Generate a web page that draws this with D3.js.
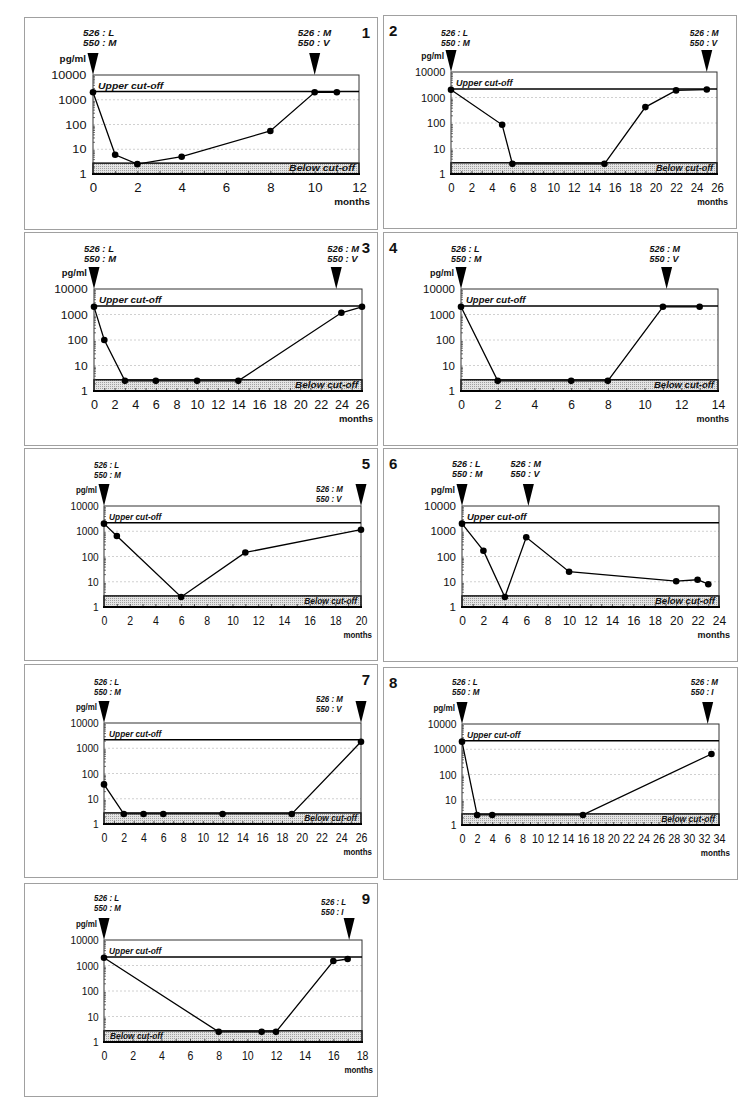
<!DOCTYPE html>
<html><head><meta charset="utf-8">
<script src="https://cdn.jsdelivr.net/npm/d3@7/dist/d3.min.js"></script>
<style>
body{margin:0;background:#fff}
svg{display:block}
text{font-family:"Liberation Sans",Arial,Helvetica,sans-serif;fill:#111}
</style>
</head><body>
<svg id="chart" width="752" height="1112"></svg>
<script>
// ---------------- DATA ----------------
const panelNumbers = [1, 2, 3, 4, 5, 6, 7, 8, 9];
const months1 = [0, 1, 2, 4, 8, 10, 11];
const values1 = [2000, 6, 2.5, 5, 55, 2000, 2000];
const months2 = [0, 5, 6, 15, 19, 22, 25];
const values2 = [2000, 85, 2.5, 2.5, 420, 1900, 2050];
const months3 = [0, 1, 3, 6, 10, 14, 24, 26];
const values3 = [2000, 100, 2.5, 2.5, 2.5, 2.5, 1170, 2000];
const months4 = [0, 2, 6, 8, 11, 13];
const values4 = [2000, 2.5, 2.5, 2.5, 2000, 2000];
const months5 = [0, 1, 6, 11, 20];
const values5 = [2000, 650, 2.5, 145, 1150];
const months6 = [0, 2, 4, 6, 10, 20, 22, 23];
const values6 = [2000, 170, 2.5, 580, 25, 10.5, 12, 8];
const months7 = [0, 2, 4, 6, 12, 19, 26];
const values7 = [37, 2.5, 2.5, 2.5, 2.5, 2.5, 1800];
const months8 = [0, 2, 4, 16, 33];
const values8 = [2000, 2.5, 2.5, 2.5, 650];
const months9 = [0, 8, 11, 12, 16, 17];
const values9 = [2000, 2.5, 2.5, 2.5, 1500, 1800];
const monthSeries = [months1, months2, months3, months4, months5, months6, months7, months8, months9];
const valueSeries = [values1, values2, values3, values4, values5, values6, values7, values8, values9];

const monthsMax = [12, 26, 26, 14, 20, 24, 26, 34, 18];
const startMarkerMonth = [0, 0, 0, 0, 0, 0, 0, 0, 0];
const endMarkerMonth = [10, 25, 23.5, 11.2, 20, 6.2, 26, 32.5, 17.1];
const startLabels = [
  ["526 : L", "550 : M"], ["526 : L", "550 : M"], ["526 : L", "550 : M"],
  ["526 : L", "550 : M"], ["526 : L", "550 : M"], ["526 : L", "550 : M"],
  ["526 : L", "550 : M"], ["526 : L", "550 : M"], ["526 : L", "550 : M"]];
const endLabels = [
  ["526 : M", "550 : V"], ["526 : M", "550 : V"], ["526 : M", "550 : V"],
  ["526 : M", "550 : V"], ["526 : M", "550 : V"], ["526 : M", "550 : V"],
  ["526 : M", "550 : V"], ["526 : M", "550 : I"], ["526 : L", "550 : I"]];
const yTickValues = [1, 10, 100, 1000, 10000];
const yDomain = [1, 10000];
const upperCutoff = 2150;
const lowerCutoff = 2.75;
const unitLabel = "pg/ml";
const xAxisLabel = "months";
const upperLabel = "Upper cut-off";
const lowerLabel = "Below cut-off";

// ---------------- LAYOUT ----------------
// box: [left, top, right, bottom]; plot: [x0, x1, yTop, yBottom]
const layout = [
  {box:[24,17,377,229],  plot:[93,359,75,174],   sx:1.1,  side:"L", startDy:19, endDx:-17, endDy:19, belowLeft:false},
  {box:[383,15,736,228], plot:[451,717,72,174],  sx:0.95, side:"R", startDy:21, endDx:-17, endDy:21, belowLeft:false},
  {box:[24,232,377,445], plot:[94,362,289,391],  sx:1.05, side:"L", startDy:20, endDx:-9,  endDy:20, belowLeft:false},
  {box:[383,232,737,445],plot:[461,718,289,391], sx:1.0,  side:"R", startDy:20, endDx:-17, endDy:20, belowLeft:false},
  {box:[24,448,377,660], plot:[104,361,506,607], sx:0.88, side:"L", startDy:20, endDx:-45, endDy:44, belowLeft:false},
  {box:[383,448,737,661],plot:[462,719,506,607], sx:1.0,  side:"R", startDy:19, endDx:-18, endDy:19, belowLeft:false},
  {box:[24,664,377,877], plot:[104,361,723,824], sx:0.88, side:"L", startDy:21, endDx:-45, endDy:38, belowLeft:false},
  {box:[383,667,737,879],plot:[462,719,724,825], sx:0.9,  side:"R", startDy:18, endDx:-17, endDy:18, belowLeft:false},
  {box:[24,883,377,1096],plot:[104,362,940,1042],sx:0.88, side:"L", startDy:18, endDx:-28, endDy:22, belowLeft:true}
];

const svg = d3.select("#chart");
const defs = svg.append("defs");
const pat = defs.append("pattern").attr("id","dots").attr("width",2).attr("height",2)
  .attr("patternUnits","userSpaceOnUse");
pat.append("rect").attr("width",2).attr("height",2).attr("fill","#e4e4e4");
pat.append("rect").attr("width",1).attr("height",1).attr("fill","#a0a0a0");

function label(g, x, y, str, opts) {
  return g.append("text")
    .attr("transform", `translate(${x},${y}) scale(${opts.sx||1},1)`)
    .attr("font-size", opts.size)
    .attr("font-weight", opts.weight || "normal")
    .attr("font-style", opts.style || "normal")
    .attr("text-anchor", opts.anchor || "start")
    .text(str);
}

panelNumbers.forEach((num, i) => {
  const L = layout[i];
  const [bl, bt, br, bb] = L.box;
  const [x0, x1, yT, yB] = L.plot;
  const sx = L.sx;
  const g = svg.append("g");

  g.append("rect").attr("x", bl + 0.5).attr("y", bt + 0.5)
    .attr("width", br - bl).attr("height", bb - bt)
    .attr("fill", "none").attr("stroke", "#a0a0a0").attr("stroke-width", 1);

  const x = d3.scaleLinear().domain([0, monthsMax[i]]).range([x0, x1]);
  const y = d3.scaleLog().domain(yDomain).range([yB, yT]);

  // grid
  g.selectAll(".grid").data([10, 100, 1000]).join("line")
    .attr("x1", x0).attr("x2", x1).attr("y1", d => y(d)).attr("y2", d => y(d))
    .attr("stroke", "#c4c4c4").attr("stroke-width", 0.8).attr("stroke-dasharray", "2,2");

  // below cut-off band
  g.append("rect").attr("x", x0).attr("y", y(lowerCutoff))
    .attr("width", x1 - x0).attr("height", y(1) - y(lowerCutoff))
    .attr("fill", "url(#dots)").attr("stroke", "#000").attr("stroke-width", 1.4);

  // plot frame
  g.append("rect").attr("x", x0).attr("y", y(10000))
    .attr("width", x1 - x0).attr("height", y(1) - y(10000))
    .attr("fill", "none").attr("stroke", "#333").attr("stroke-width", 1);

  // upper cut-off line
  g.append("line").attr("x1", x0).attr("x2", x1)
    .attr("y1", y(upperCutoff)).attr("y2", y(upperCutoff))
    .attr("stroke", "#000").attr("stroke-width", 1.5);

  // minor ticks
  const minorX = d3.axisBottom(x).tickValues(d3.range(0, monthsMax[i] + 1, 1))
    .tickSize(-3).tickFormat("");
  g.append("g").attr("transform", `translate(0,${yB})`).call(minorX)
    .call(a => a.select(".domain").remove())
    .selectAll("line").attr("stroke", "#333").attr("stroke-width", 0.8);
  const minorYVals = [];
  for (let dec = 1; dec < 10000; dec *= 10) for (let k = 2; k <= 9; k++) minorYVals.push(dec * k);
  const minorY = d3.axisLeft(y).tickValues(minorYVals).tickSize(-2).tickFormat("");
  g.append("g").attr("transform", `translate(${x0},0)`).call(minorY)
    .call(a => a.select(".domain").remove())
    .selectAll("line").attr("stroke", "#333").attr("stroke-width", 0.7);

  // x axis line
  g.append("line").attr("x1", x0 - 1).attr("x2", x1 + 1).attr("y1", yB).attr("y2", yB)
    .attr("stroke", "#000").attr("stroke-width", 2);

  // axes labels
  const xAxis = d3.axisBottom(x).tickValues(d3.range(0, monthsMax[i] + 1, 2))
    .tickSize(0).tickPadding(9).tickFormat(d3.format("d"));
  const xa = g.append("g").attr("transform", `translate(0,${yB})`).call(xAxis);
  xa.select(".domain").remove();
  xa.selectAll("text").attr("font-size", 12).attr("fill", "#111")
    .attr("font-family", '"Liberation Sans",Arial,sans-serif')
    .attr("transform", `scale(${sx},1)`);

  const yAxis = d3.axisLeft(y).tickValues(yTickValues).tickSize(0).tickPadding(6)
    .tickFormat(d3.format("d"));
  const ya = g.append("g").attr("transform", `translate(${x0},0)`).call(yAxis);
  ya.select(".domain").remove();
  ya.selectAll("text").attr("font-size", 11.5).attr("fill", "#111")
    .attr("font-family", '"Liberation Sans",Arial,sans-serif')
    .attr("transform", `scale(${sx},1)`);

  label(g, x1 + 11, yB + 31, xAxisLabel, {size: 9, weight: "bold", anchor: "end", sx});
  label(g, x0 - 7, yT - 13, unitLabel, {size: 9, weight: "bold", anchor: "end", sx});

  // cut-off labels
  label(g, x0 + 5, y(upperCutoff) - 3, upperLabel, {size: 9.5, weight: "bold", style: "italic", sx});
  if (L.belowLeft) {
    label(g, x0 + 6, yB - 3, lowerLabel, {size: 9.5, weight: "bold", style: "italic", sx});
  } else {
    label(g, x1 - 4, yB - 3, lowerLabel, {size: 9.5, weight: "bold", style: "italic", anchor: "end", sx});
  }

  // data line & points
  const pts = monthSeries[i].map((m, k) => [m, valueSeries[i][k]]);
  g.append("path").datum(pts)
    .attr("d", d3.line().x(d => x(d[0])).y(d => y(d[1])))
    .attr("fill", "none").attr("stroke", "#000").attr("stroke-width", 1.3);
  g.selectAll(".pt").data(pts).join("circle")
    .attr("cx", d => x(d[0])).attr("cy", d => y(d[1])).attr("r", 3.3).attr("fill", "#000");

  // markers (triangles)
  [startMarkerMonth[i], endMarkerMonth[i]].forEach(m => {
    const cx = x(m);
    g.append("path").attr("d", `M${cx - 5.5},${yT - 22}L${cx + 5.5},${yT - 22}L${cx},${yT}Z`)
      .attr("fill", "#000");
  });

  // annotations
  const sxs = x(startMarkerMonth[i]) - 10;
  startLabels[i].forEach((s, k) =>
    label(g, sxs, bt + L.startDy + k * 10, s, {size: 9, weight: "bold", style: "italic", sx}));
  const exs = x(endMarkerMonth[i]) + L.endDx;
  endLabels[i].forEach((s, k) =>
    label(g, exs, bt + L.endDy + k * 10, s, {size: 9, weight: "bold", style: "italic", sx}));

  // panel number
  if (L.side === "L") {
    label(g, 370, bt + 21, String(num), {size: 15, weight: "bold", anchor: "end"});
  } else {
    label(g, 389, bt + 21, String(num), {size: 15, weight: "bold", anchor: "start"});
  }
});
</script>
</body></html>
